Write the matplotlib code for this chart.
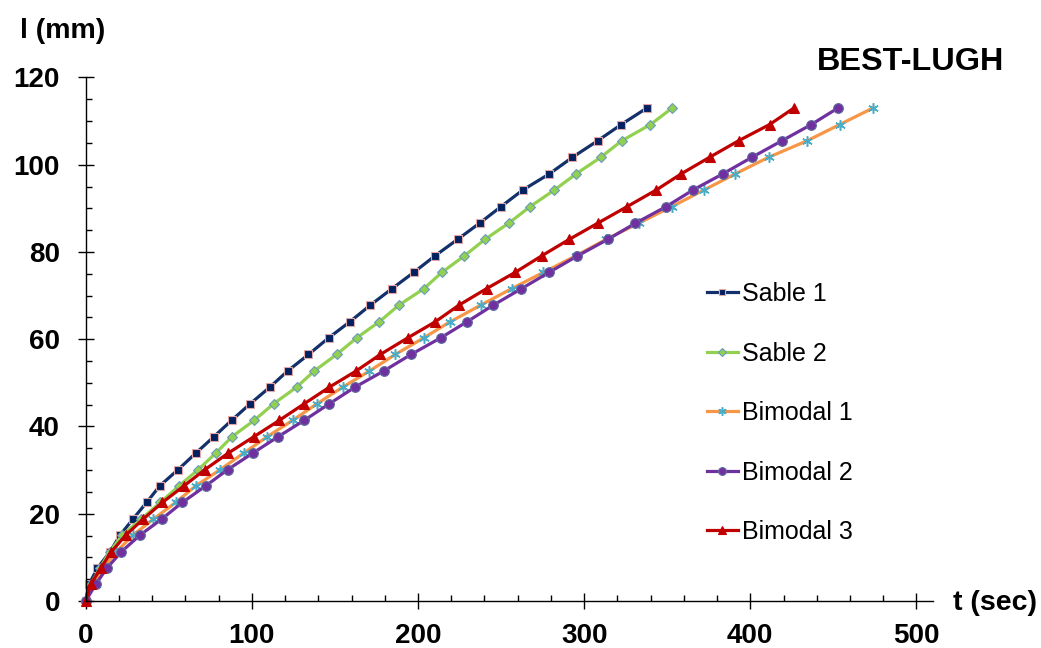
import matplotlib
matplotlib.use("Agg")
import matplotlib.pyplot as plt
from matplotlib.ticker import MultipleLocator

plt.rcParams["font.family"] = ["Liberation Sans", "DejaVu Sans"]

# crack length levels (mm), shared by every series
l_mm = [0, 3.8, 7.5, 11.3, 15.1, 18.8, 22.6, 26.4, 30.1, 33.9, 37.7, 41.4, 45.2,
        49.0, 52.7, 56.5, 60.3, 64.0, 67.8, 71.6, 75.3, 79.1, 82.9, 86.6, 90.4,
        94.2, 97.9, 101.7, 105.5, 109.2, 113.0]

# time (sec) at which each level is reached
t_sable1 = [0, 2, 7, 14.7, 20.7, 28.5, 36.7, 44.6, 55.6, 66.3, 77.3, 87.8, 99.0,
            110.8, 121.5, 134.1, 146.2, 159.0, 171.3, 184.4, 197.4, 210.2, 223.9,
            237.1, 250.0, 263.1, 279.1, 293.0, 308.2, 322.3, 337.8]
t_sable2 = [0, 3, 8.5, 14.5, 22, 33.5, 45, 56.2, 67.7, 78.3, 88.2, 101.4, 113.1,
            126.9, 137.5, 151.0, 163.1, 176.7, 188.5, 203.6, 214.3, 227.9, 240.4,
            254.6, 267.5, 282.1, 295.2, 310.0, 322.7, 339.9, 353.0]
t_bimodal1 = [0, 4.5, 10.5, 18.5, 28.5, 40.8, 54.2, 66.3, 80.9, 95.1, 109.4, 124.5,
              139.2, 154.6, 170.7, 186.3, 203.4, 219.4, 237.7, 256.4, 275.4, 294.9,
              313.3, 332.8, 352.8, 372.1, 391.0, 411.0, 434.3, 453.8, 473.9]
t_bimodal2 = [0, 6.0, 12.7, 21.5, 32.7, 45.8, 58.2, 72.3, 85.4, 100.6, 116.0, 131.5,
              146.6, 162.0, 179.3, 195.8, 213.6, 229.5, 245.3, 262.3, 278.8, 296.0,
              314.3, 330.9, 349.4, 365.5, 383.5, 401.0, 419.1, 436.7, 452.8]
t_bimodal3 = [0, 3, 9, 15.5, 24.1, 34.7, 46.2, 59.2, 71.7, 85.8, 101.4, 116.5, 131.5,
              146.6, 162.7, 177.3, 193.8, 210.4, 224.6, 241.3, 258.4, 274.4, 291.1,
              308.2, 325.9, 343.4, 358.4, 375.5, 393.0, 411.6, 426.3]

fig = plt.figure(figsize=(10.41, 6.48), dpi=100)
ax = fig.add_axes([0.0823, 0.0725, 0.814, 0.808])

common = dict(lw=2.3, clip_on=False)
ax.plot(t_sable1, l_mm, color="#13306a", marker="s", ms=6, mfc="#002060",
        mec="#e2a6a6", mew=0.8, label="Sable 1", **common)
ax.plot(t_sable2, l_mm, color="#92d050", marker="D", ms=5, mfc="#92d050",
        mec="#6a9ac0", mew=0.8, label="Sable 2", **common)
ax.plot(t_bimodal1, l_mm, color="#f79646", marker=(6, 2, 0), ms=7.5, mfc="#4bacc6",
        mec="#4bacc6", mew=1.1, label="Bimodal 1", **common)
ax.plot(t_bimodal2, l_mm, color="#7030a0", marker="o", ms=7, mfc="#7030a0",
        mec="#5d6d9c", mew=0.8, label="Bimodal 2", **common)
ax.plot(t_bimodal3, l_mm, color="#c00000", marker="^", ms=7.5, mfc="#c00000",
        mec="#c00000", mew=0.8, label="Bimodal 3", **common)

ax.set_xlim(0, 510)
ax.set_ylim(0, 120)
ax.xaxis.set_major_locator(MultipleLocator(100))
ax.xaxis.set_minor_locator(MultipleLocator(20))
ax.yaxis.set_major_locator(MultipleLocator(20))
ax.yaxis.set_minor_locator(MultipleLocator(5))

for s in ("top", "right"):
    ax.spines[s].set_visible(False)
for s in ("left", "bottom"):
    ax.spines[s].set_linewidth(1.0)

ax.tick_params(axis="both", which="major", direction="inout", length=11, width=1.0,
               labelsize=20)
ax.tick_params(axis="y", which="major", pad=13)
ax.tick_params(axis="x", which="major", pad=10.5)
ax.tick_params(axis="both", which="minor", direction="in", length=4.5, width=1.0)
for lab in ax.get_xticklabels() + ax.get_yticklabels():
    lab.set_fontweight("bold")

fig.text(0.019, 0.952, "l (mm)", fontsize=20.5, fontweight="bold", va="center", ha="left")
fig.text(0.915, 0.070, "t (sec)", fontsize=20.5, fontweight="bold", va="center", ha="left")
fig.text(0.8747, 0.904, "BEST-LUGH", fontsize=23.3, fontweight="bold", va="center", ha="center")

ax.legend(loc="upper left", bbox_to_anchor=(0.679, 0.5648), bbox_transform=fig.transFigure,
          frameon=False, fontsize=18, handlelength=1.24, handletextpad=0.16,
          labelspacing=1.42, borderpad=0, borderaxespad=0, markerscale=0.8)

fig.savefig("out.png", dpi=100)
